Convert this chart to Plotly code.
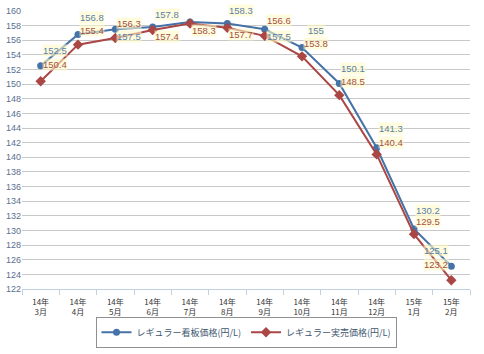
import plotly.graph_objects as go

categories = ["14年<br>3月", "14年<br>4月", "14年<br>5月", "14年<br>6月", "14年<br>7月", "14年<br>8月",
              "14年<br>9月", "14年<br>10月", "14年<br>11月", "14年<br>12月", "15年<br>1月", "15年<br>2月"]
signboard = [152.5, 156.8, 157.5, 157.8, 158.5, 158.3, 157.5, 155.0, 150.1, 141.3, 130.2, 125.1]
actual = [150.4, 155.4, 156.3, 157.4, 158.3, 157.7, 156.6, 153.8, 148.5, 140.4, 129.5, 123.2]
name_sign = "レギュラー看板価格(円/L)"
name_actual = "レギュラー実売価格(円/L)"

# label placement (pixel offsets, style only)
sign_dx = [14] * 11 + [-15]
sign_dy = [15, 17, -7, 13, None, 13, -7, 17, 15, 19, 19, 16]
act_dx = [14] * 11 + [-15]
act_dy = [17, 14, 15, -6, -7, -7, 15, 13, 14, 12, 13, 16]

BLUE = "#4572A7"
RED = "#AA4643"
FONT = "Liberation Sans, Arial, Noto Sans CJK JP, sans-serif"

fig = go.Figure()
fig.add_trace(go.Scatter(x=categories, y=signboard, name=name_sign, mode="lines+markers",
                         line=dict(color=BLUE, width=2),
                         marker=dict(symbol="circle", size=7, color=BLUE)))
fig.add_trace(go.Scatter(x=categories, y=actual, name=name_actual, mode="lines+markers",
                         line=dict(color=RED, width=2),
                         marker=dict(symbol="diamond", size=8, color=RED)))


def fmt(v):
    return ("%g" % v)


annotations = []
for cat, v, dx, dy in zip(categories, signboard, sign_dx, sign_dy):
    if dy is None:
        continue
    annotations.append(dict(x=cat, y=v, xref="x", yref="y", text=fmt(v), showarrow=False,
                            xshift=dx, yshift=dy, bgcolor="rgba(255,250,200,0.6)",
                            borderpad=0,
                            font=dict(family=FONT, size=9.5, color="#5a7fa8")))
for cat, v, dx, dy in zip(categories, actual, act_dx, act_dy):
    annotations.append(dict(x=cat, y=v, xref="x", yref="y", text=fmt(v), showarrow=False,
                            xshift=dx, yshift=dy, bgcolor="rgba(255,250,200,0.6)",
                            borderpad=0,
                            font=dict(family=FONT, size=9.5, color="#a5503f")))

fig.update_layout(
    width=484, height=354,
    margin=dict(l=22, r=14, t=6, b=54),
    paper_bgcolor="white", plot_bgcolor="white",
    font=dict(family=FONT),
    showlegend=True,
    legend=dict(orientation="h", x=0.5, xanchor="center", y=-0.1, yanchor="top",
                bordercolor="#909090", borderwidth=1, bgcolor="white",
                font=dict(family="Noto Sans CJK JP, sans-serif", size=9, color="#3E576F"),
                itemwidth=30),
    annotations=annotations,
    xaxis=dict(type="category", showgrid=False, showline=True, linecolor="#C0D0E0", linewidth=1,
               ticks="outside", tickson="boundaries", ticklen=5, tickcolor="#C0D0E0",
               ticklabelstandoff=5,
               tickfont=dict(family="Noto Sans CJK JP, sans-serif", size=8, color="#333333"),
               range=[-0.5, 11.5], fixedrange=True),
    yaxis=dict(range=[122, 160], dtick=2, tick0=122, showgrid=True, gridcolor="#C8C8C8", gridwidth=1,
               zeroline=False, showline=False, ticks="",
               tickfont=dict(family=FONT, size=9, color="#5a6f90"), fixedrange=True),
)

fig.write_html("out.html")
